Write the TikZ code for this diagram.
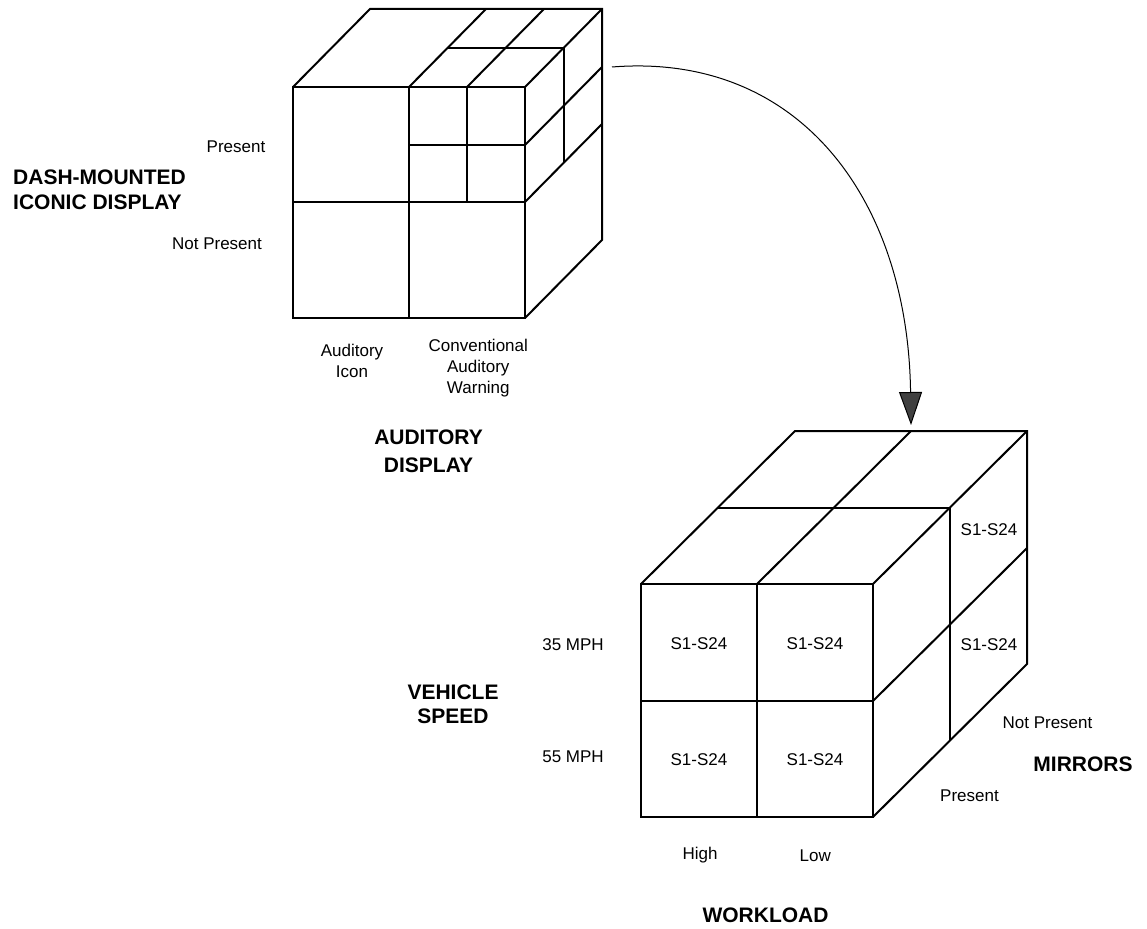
\documentclass[tikz,border=0pt]{standalone}
\usepackage{fontspec}
\setmainfont{Liberation Sans}
\usetikzlibrary{arrows.meta}
\begin{document}
\begin{tikzpicture}[x=1pt,y=-1pt,
  cube/.style={line width=2pt, line join=miter},
  lbl/.style={inner sep=0pt, font=\fontsize{17}{21}\selectfont},
  ttl/.style={inner sep=0pt, font=\fontsize{21}{24.5}\selectfont\bfseries},
  link/.style={line width=1pt, -{Triangle[width=23pt,length=33pt,fill=black!75]}}]
\useasboundingbox (0,0) rectangle (1147,928);

% ---- top cube ----
\draw[cube] (293,87) rectangle (525,318);
\draw[cube] (409,87) -- (409,318) (293,202) -- (525,202)
            (467,87) -- (467,202) (409,145) -- (525,145);
\draw[cube] (293,87) -- (370,9) -- (602,9) -- (602,240) -- (525,318);
\draw[cube] (409,87) -- (486,9) (467,87) -- (544,9) (525,87) -- (602,9);
\draw[cube] (448,48) -- (564,48) -- (564,163);
\draw[cube] (525,145) -- (602,67) (525,202) -- (602,124);

% ---- bottom cube ----
\draw[cube] (641,584) rectangle (873,817);
\draw[cube] (757,584) -- (757,817) (641,701) -- (873,701);
\draw[cube] (641,584) -- (795,431) -- (1027,431) -- (1027,664) -- (873,817);
\draw[cube] (757,584) -- (911,431) (873,584) -- (1027,431);
\draw[cube] (718,508) -- (950,508) -- (950,741);
\draw[cube] (873,701) -- (1027,548);

% ---- arrow ----
\coordinate (arrS) at (612,67);
\coordinate (arrE) at (911,425);
\draw[link] (arrS) .. controls (800,52) and (908,200) .. (arrE);

% ---- top cube labels ----
\node[lbl, anchor=base] (presA) at (236,152.3) {Present};
\node[lbl, anchor=base] (npresA) at (217,249) {Not Present};
\node[ttl, anchor=north west, align=left] (dash) at (13,169.7) {DASH-MOUNTED\\ICONIC DISPLAY};
\node[lbl, anchor=north, align=center] (aicon) at (352,344) {Auditory\\Icon};
\node[lbl, anchor=north, align=center] (conv) at (478.3,339) {Conventional\\Auditory\\Warning};
\node[ttl, anchor=north, align=center, font=\fontsize{21}{27.5}\selectfont\bfseries] (audd) at (428.5,429.7) {AUDITORY\\DISPLAY};

% ---- bottom cube labels ----
\node[lbl, anchor=base] (c1) at (699,649) {S1-S24};
\node[lbl, anchor=base] (c2) at (815,649) {S1-S24};
\node[lbl, anchor=base] (c3) at (699,765) {S1-S24};
\node[lbl, anchor=base] (c4) at (815,765) {S1-S24};
\node[lbl, anchor=base] (c5) at (989,535) {S1-S24};
\node[lbl, anchor=base] (c6) at (989,650.7) {S1-S24};
\node[lbl, anchor=base] (m35) at (573,650.7) {35 MPH};
\node[lbl, anchor=base] (m55) at (573,762.3) {55 MPH};
\node[ttl, anchor=north, align=center] (vs) at (453,684.5) {VEHICLE\\SPEED};
\node[lbl, anchor=base] (high) at (700,859) {High};
\node[lbl, anchor=base] (low) at (815.3,861.7) {Low};
\node[ttl, anchor=base] (work) at (765.5,922.7) {WORKLOAD};
\node[lbl, anchor=base] (npresB) at (1047.5,728.3) {Not Present};
\node[ttl, anchor=base] (mirr) at (1083,771.7) {MIRRORS};
\node[lbl, anchor=base] (presB) at (969.5,801.7) {Present};
\end{tikzpicture}
\end{document}
